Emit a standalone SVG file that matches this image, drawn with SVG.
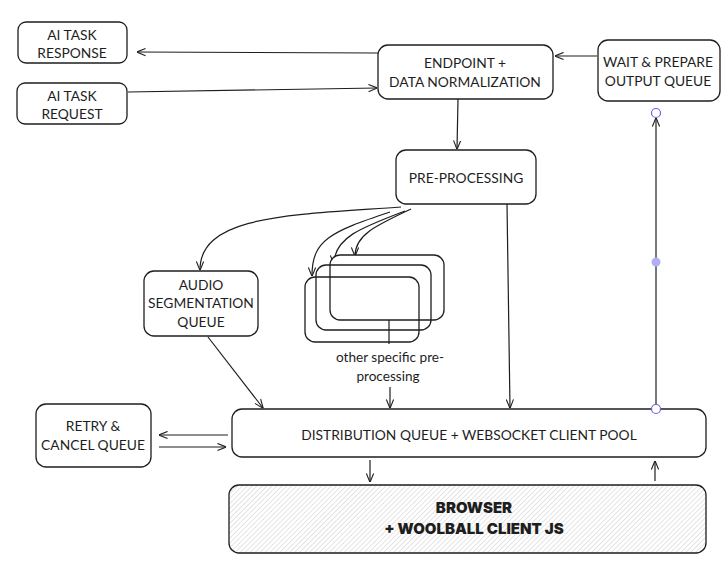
<svg xmlns="http://www.w3.org/2000/svg" width="728" height="566" viewBox="0 0 728 566">
<defs>
<style>
.box{fill:#fff;stroke:#1e1e1e;stroke-width:1.3}
.t{font-family:Lato,"Open Sans",sans-serif;font-size:13.8px;fill:#1e1e1e;text-anchor:middle}
.s{font-family:Lato,"Open Sans",sans-serif;font-size:13.6px;fill:#1e1e1e;text-anchor:middle}
.b{font-family:Inter,"DejaVu Sans",sans-serif;font-weight:900;font-size:15px;fill:#1e1e1e;text-anchor:middle}
.c{fill:none;stroke:#1e1e1e;stroke-width:1.2}
</style>
<marker id="ah" viewBox="0 0 10 10" refX="9.5" refY="5" markerWidth="9" markerHeight="9" orient="auto" markerUnits="userSpaceOnUse">
<path d="M0,1 L10,5 L0,9" fill="none" stroke="#1e1e1e" stroke-width="1.2"/>
</marker>
<pattern id="hatch" width="3.5" height="3.5" patternUnits="userSpaceOnUse" patternTransform="rotate(45)">
<line x1="0" y1="0" x2="0" y2="3.5" stroke="#c8c8c8" stroke-width="1"/>
</pattern>
</defs>
<g id="connectors">
<path class="c" d="M378 53 L137 52" marker-end="url(#ah)"/>
<path class="c" d="M128 92 L377 88" marker-end="url(#ah)"/>
<path class="c" d="M597 56 L555 56" marker-end="url(#ah)"/>
<path class="c" d="M458 99 L457 149" marker-end="url(#ah)"/>
<path class="c" d="M401 207 C290 215 200 215 200 270" marker-end="url(#ah)"/>
<path class="c" d="M390 212 C330 232 312 240 312 276" marker-end="url(#ah)"/>
<path class="c" d="M405 211 C360 228 334 238 334 264" marker-end="url(#ah)"/>
<path class="c" d="M411 209 C375 226 355 235 355 256" marker-end="url(#ah)"/>
<path class="c" d="M507 204 L510 408" marker-end="url(#ah)"/>
<path class="c" d="M389 320 L389 344"/>
<path class="c" d="M390 387 L390 408" marker-end="url(#ah)"/>
<path class="c" d="M208 337 L263 408" marker-end="url(#ah)"/>
<path class="c" d="M228 435 L159 435" marker-end="url(#ah)"/>
<path class="c" d="M159 447 L226 447" marker-end="url(#ah)"/>
<path class="c" d="M370 460 L370 482" marker-end="url(#ah)"/>
<path class="c" d="M655 481 L655 461" marker-end="url(#ah)"/>
<path class="c" d="M656 405 L656 118" marker-end="url(#ah)"/>
</g>
<g id="ai-task-response">
<rect class="box" x="18" y="22" width="109" height="41" rx="8"/>
<text class="t" x="72" y="40">AI TASK</text>
<text class="t" x="72" y="58">RESPONSE</text>
</g>
<g id="ai-task-request">
<rect class="box" x="17" y="83" width="110" height="41" rx="8"/>
<text class="t" x="72" y="101">AI TASK</text>
<text class="t" x="72" y="119">REQUEST</text>
</g>
<g id="endpoint">
<rect class="box" x="378" y="45" width="175" height="54" rx="10"/>
<text class="t" x="465" y="68">ENDPOINT +</text>
<text class="t" x="465" y="87">DATA NORMALIZATION</text>
</g>
<g id="wait-prepare">
<rect class="box" x="598" y="40" width="122" height="61" rx="10"/>
<text class="t" x="658" y="67">WAIT &amp; PREPARE</text>
<text class="t" x="658" y="86">OUTPUT QUEUE</text>
</g>
<g id="pre-processing">
<rect class="box" x="396" y="150" width="140" height="54" rx="10"/>
<text class="t" x="466" y="183">PRE-PROCESSING</text>
</g>
<g id="audio-segmentation">
<rect class="box" x="144" y="271" width="114" height="65" rx="10"/>
<text class="t" x="201" y="290">AUDIO</text>
<text class="t" x="201" y="308">SEGMENTATION</text>
<text class="t" x="201" y="327">QUEUE</text>
</g>
<g id="other-pre-processing">
<rect class="box" x="330" y="255" width="114" height="65" rx="10"/>
<rect class="box" x="316" y="265" width="115" height="65" rx="10" style="fill:none"/>
<rect class="box" x="305" y="277" width="114" height="65" rx="10" style="fill:none"/>
<text class="s" x="390" y="362">other specific pre-</text>
<text class="s" x="388" y="381">processing</text>
</g>
<g id="retry-cancel">
<rect class="box" x="36" y="404" width="115" height="63" rx="10"/>
<text class="t" x="93" y="431">RETRY &amp;</text>
<text class="t" x="93" y="450">CANCEL QUEUE</text>
</g>
<g id="distribution">
<rect class="box" x="232" y="409" width="474" height="48" rx="10"/>
<text class="t" x="469" y="440">DISTRIBUTION QUEUE + WEBSOCKET CLIENT POOL</text>
</g>
<g id="browser">
<rect x="229" y="485" width="477" height="68" rx="10" fill="url(#hatch)" stroke="#1e1e1e" stroke-width="1.3"/>
<text class="b" x="474" y="513">BROWSER</text>
<text class="b" x="474" y="534">+ WOOLBALL CLIENT JS</text>
</g>
<g id="connector-handles">
<circle cx="656" cy="113" r="4.5" fill="#fff" stroke="#6965db" stroke-width="1.2"/>
<circle cx="656" cy="262" r="4.5" fill="#b3b0f2" stroke="none"/>
<circle cx="656" cy="409" r="4.5" fill="#fff" stroke="#6965db" stroke-width="1.2"/>
</g>
</svg>
